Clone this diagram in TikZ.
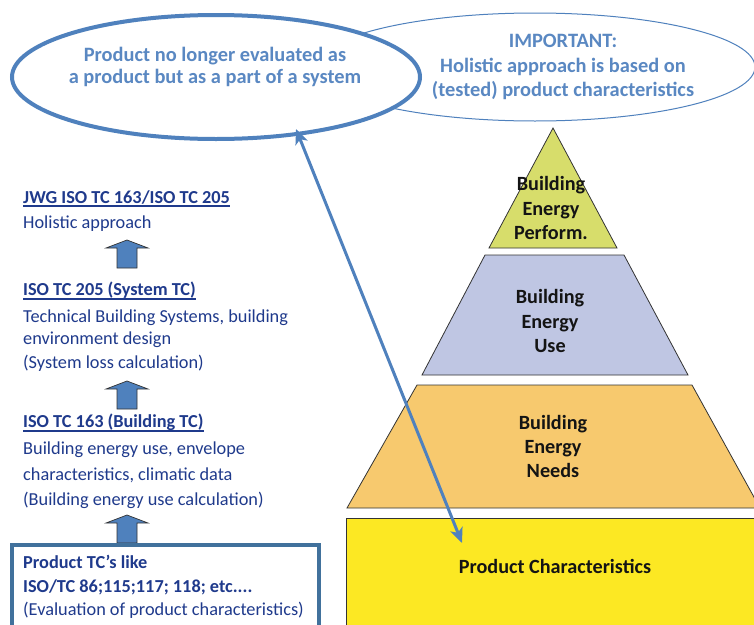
\documentclass[tikz,border=0pt]{standalone}
\usepackage{fontspec}
\setmainfont{Carlito}
\usetikzlibrary{arrows.meta,shapes.geometric}
\definecolor{ellblue}{HTML}{4F81BD}
\definecolor{elltext}{HTML}{5A88C2}
\definecolor{navy}{HTML}{1F3A8C}
\definecolor{boxblue}{HTML}{41719C}
\definecolor{perfc}{HTML}{D7DD6B}
\definecolor{usec}{HTML}{BFC6E3}
\definecolor{needc}{HTML}{F7C96E}
\definecolor{prodc}{HTML}{FCE823}
\definecolor{outl}{HTML}{333333}
\definecolor{pyrtext}{HTML}{141414}
\tikzset{
  ltext/.style={anchor=base west, inner sep=0pt, text=navy, font=\fontsize{18.3}{22}\selectfont},
  lhead/.style={ltext, font=\fontsize{18.3}{22}\selectfont\bfseries},
  etext/.style={anchor=base, inner sep=0pt, text=elltext, font=\fontsize{20.4}{24}\selectfont\bfseries},
  ptext/.style={anchor=base, inner sep=0pt, text=pyrtext, font=\fontsize{20.2}{24}\selectfont\bfseries},
  layer/.style={draw=outl, line width=0.8pt},
  blockup/.pic={\draw[draw=outl, line width=0.7pt, fill=ellblue]
     (-10,28) -- (-10,8) -- (-21,8) -- (0,0) -- (21,8) -- (10,8) -- (10,28) -- cycle;},
  uline/.style={draw=navy, line width=1.4pt}
}
\begin{document}
\begin{tikzpicture}[x=1pt,y=-1pt]
\useasboundingbox (0,0) rectangle (754,624);
\clip (0,0) rectangle (754,624);
\fill[white] (0,0) rectangle (754,624);

% ellipses
\node[draw=ellblue, line width=1pt, ellipse, minimum width=440pt, minimum height=108pt, inner sep=0pt] (ellR) at (535,67) {};
\node[draw=ellblue, line width=4pt, fill=white, ellipse, minimum width=408pt, minimum height=124pt, inner sep=0pt] (ellL) at (216,77) {};
\node[etext] (l1) at (215,61) {Product no longer evaluated as};
\node[etext] (l2) at (215,83) {a product but as a part of a system};
\node[etext] (r1) at (563,47) {IMPORTANT:};
\node[etext] (r2) at (563,72) {Holistic approach is based on};
\node[etext] (r3) at (563,96) {(tested) product characteristics};

% pyramid
\draw[layer, fill=perfc] (553,128) -- (617,248) -- (489,248) -- cycle;
\draw[layer, fill=usec] (485,255) -- (624,255) -- (688,375) -- (422,375) -- cycle;
\draw[layer, fill=needc] (417,385) -- (692,385) -- (760,508) -- (347,508) -- cycle;
\node[layer, fill=prodc, anchor=north west, minimum width=430pt, minimum height=130pt, inner sep=0pt] (prod) at (346,518) {};

\node[ptext] (p1) at (551,190) {Building};
\node[ptext] (p2) at (551,215) {Energy};
\node[ptext] (p3) at (551,239) {Perform.};
\node[ptext] (u1) at (550,303) {Building};
\node[ptext] (u2) at (550,328) {Energy};
\node[ptext] (u3) at (550,352) {Use};
\node[ptext] (n1) at (553,429) {Building};
\node[ptext] (n2) at (553,453) {Energy};
\node[ptext] (n3) at (553,477) {Needs};
\node[ptext] (pct) at (555,573) {Product Characteristics};

% left column
\node[lhead] (h1) at (23,203) {JWG ISO TC 163/ISO TC 205};
\draw[uline] ([yshift=-3pt]h1.base west) -- ([yshift=-3pt]h1.base east);
\node[ltext] (t1) at (23,228) {Holistic approach};
\pic at (127,240) {blockup};

\node[lhead] (h2) at (23,295) {ISO TC 205 (System TC)};
\draw[uline] ([yshift=-4pt]h2.base west) -- ([yshift=-4pt]h2.base east);
\node[ltext] (t2) at (23,322) {Technical Building Systems, building};
\node[ltext] (t3) at (23,344) {environment design};
\node[ltext] (t4) at (23,368) {(System loss calculation)};
\pic at (127,381) {blockup};

\node[lhead] (h3) at (23,427) {ISO TC 163 (Building TC)};
\draw[uline] ([yshift=-4pt]h3.base west) -- ([yshift=-4pt]h3.base east);
\node[ltext] (t5) at (23,454) {Building energy use, envelope};
\node[ltext] (t6) at (23,480) {characteristics, climatic data};
\node[ltext] (t7) at (23,505) {(Building energy use calculation)};
\pic at (127,515) {blockup};

\node[draw=boxblue, line width=3.5pt, fill=white, anchor=north west, minimum width=307pt, minimum height=110pt, inner sep=0pt] (box) at (10,543) {};
\node[lhead] (b1) at (23,568) {Product TC’s like};
\node[lhead] (b2) at (23,592) {ISO/TC 86;115;117; 118; etc....};
\node[ltext] (b3) at (23,615) {(Evaluation of product characteristics)};

% double arrow
\coordinate (aa) at (296,129);
\coordinate (ab) at (462,543);
\draw[ellblue, line width=3pt, {Stealth[length=15pt,width=13pt,inset=4pt]}-{Stealth[length=15pt,width=13pt,inset=4pt]}] (aa) -- (ab);
\end{tikzpicture}
\end{document}
